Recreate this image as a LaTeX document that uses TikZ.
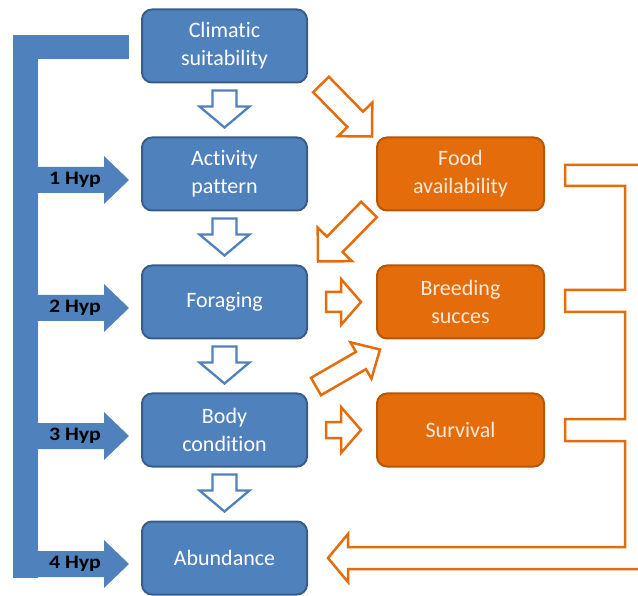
\documentclass[tikz,border=0pt]{standalone}
\usepackage{fontspec}
\setmainfont{Carlito}[Ligatures={NoCommon,NoRare,NoDiscretionary}]
\usepackage{graphicx}
\usepackage{tikz}
\usetikzlibrary{positioning, calc}
\definecolor{boxblue}{HTML}{4F81BD}
\definecolor{boxblueline}{HTML}{385D8A}
\definecolor{boxorange}{HTML}{E46C0A}
\definecolor{boxorangeline}{HTML}{B65708}
\definecolor{textcream}{HTML}{FDEADA}
\tikzset{
  bluebox/.style={rectangle, rounded corners=10pt, draw=boxblueline, fill=boxblue, line width=2pt, minimum width=165pt, minimum height=73pt, align=center, text=white, font=\fontsize{22}{28}\selectfont},
  orangebox/.style={bluebox, draw=boxorangeline, fill=boxorange, minimum width=167pt, text=textcream},
  bluearrow/.style={draw=boxblue, fill=white, line width=2.3pt},
  orangearrow/.style={draw=boxorange, fill=white, line width=2.5pt},
  hyplabel/.style={font=\fontsize{19}{21}\selectfont\bfseries, text=black},
}
% hollow block arrow: style, from, to, shaft half width, head half width, head length
\newcommand{\hollowarrow}[6]{%
  \path #2 coordinate (hA) #3 coordinate (hB);
  \coordinate (hC) at ($(hB)!#6!(hA)$);
  \draw[#1] ($(hA)!#4!90:(hB)$) -- ($(hC)!#4!90:(hB)$) -- ($(hC)!#5!90:(hB)$) -- (hB)
    -- ($(hC)!#5!-90:(hB)$) -- ($(hC)!#4!-90:(hB)$) -- ($(hA)!#4!-90:(hB)$) -- cycle;
}

\begin{document}
\begin{tikzpicture}[x=1pt, y=-1pt]
  \useasboundingbox (0,0) rectangle (638,596);
  \clip (0,0) rectangle (638,596);

  % Nodes
  \node[bluebox] (clim) at (224.5,46) {Climatic\\suitability};
  \node[bluebox, below=53pt of clim] (act) {Activity\\pattern};
  \node[bluebox, below=53pt of act] (forag) {Foraging};
  \node[bluebox, below=53pt of forag] (body) {Body\\condition};
  \node[bluebox, below=53pt of body] (abund) {Abundance};
  \node[orangebox, right=68pt of act] (food) {Food\\availability};
  \node[orangebox, right=68pt of forag] (breed) {Breeding\\succes};
  \node[orangebox, right=68pt of body] (surv) {Survival};

  % Hypotheses bracket
  \fill[boxblue] (13,35) rectangle (38,578);
  \fill[boxblue] (13,35) rectangle ($(clim.west)+(-12,13)$);
  \foreach \n/\k in {act/1, forag/2, body/3, abund/4} {
    \fill[boxblue] ($(\n.west)+(-12,6)$) coordinate (tip) -- ++(-25,-24) -- ++(0,11) -- ++(-80,0)
      -- ++(0,26) -- ++(80,0) -- ++(0,11) -- cycle;
    \node[hyplabel] (hyp\k) at ($(tip)+(-54,0)$) {\scalebox{1.15}[1]{\k\ Hyp}};
  }

  % Arrows
  \foreach \a/\b in {clim/act, act/forag, forag/body, body/abund}
    \hollowarrow{bluearrow}{($(\a.south)+(0,7)$)}{($(\b.north)+(0,-9)$)}{12pt}{25pt}{21pt};
  \hollowarrow{orangearrow}{($(clim.south east)+(13,1)$)}{($(food.north west)+(-4,0)$)}{11pt}{24pt}{24pt};
  \hollowarrow{orangearrow}{($(food.south west)+(-7,-2)$)}{($(forag.north east)+(10,-3)$)}{11pt}{24pt}{24pt};
  \hollowarrow{orangearrow}{($(forag.east)+(18,0)$)}{($(breed.west)+(-15,0)$)}{10pt}{23pt}{20pt};
  \hollowarrow{orangearrow}{($(body.north east)+(8,-6)$)}{($(breed.south west)+(4,10)$)}{10pt}{21pt}{22pt};
  \hollowarrow{orangearrow}{($(body.east)+(18,0)$)}{($(surv.west)+(-15,0)$)}{8pt}{23pt}{20pt};

  % Feedback bracket
  \draw[orangearrow]
    ($(food.east)+(20,-9)$) -- ++(120,0)
    |- ($(abund.east)+(40,11)$) -- ++(0,13) -- ($(abund.east)+(20,0)$)
    -- ($(abund.east)+(40,-24)$) -- ++(0,13)
    -| ($(surv.east)+(80,11)$) -- ++(-60,0) -- ++(0,-22)
    -| ($(breed.east)+(80,10)$) -- ++(-60,0) -- ++(0,-22)
    -| ($(food.east)+(80,12)$) -- ++(-60,0) -- cycle;

\end{tikzpicture}
\end{document}
